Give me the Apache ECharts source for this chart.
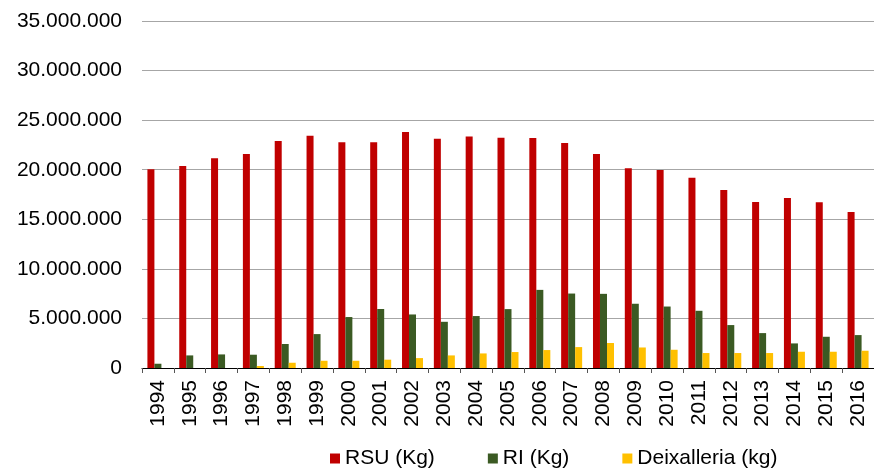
<!DOCTYPE html>
<html>
<head>
<meta charset="utf-8">
<script src="https://cdn.jsdelivr.net/npm/echarts@6/dist/echarts.min.js"></script>
<style>
html,body{margin:0;padding:0;background:#fff;}
#chart{width:874px;height:469px;}
</style>
</head>
<body>
<div id="chart"></div>
<script>
const years = ['1994','1995','1996','1997','1998','1999','2000','2001','2002','2003','2004','2005','2006','2007','2008','2009','2010','2011','2012','2013','2014','2015','2016'];
const rsu = [20040000,20370000,21150000,21580000,22890000,23420000,22760000,22780000,23800000,23120000,23360000,23220000,23190000,22690000,21580000,20140000,19970000,19200000,17960000,16750000,17150000,16720000,15740000];
const ri = [430000,1270000,1370000,1340000,2420000,3420000,5140000,5950000,5400000,4660000,5240000,5940000,7880000,7510000,7480000,6480000,6200000,5770000,4330000,3520000,2480000,3150000,3320000];
const deix = [0,0,0,200000,530000,730000,730000,840000,1000000,1270000,1470000,1610000,1810000,2110000,2520000,2070000,1840000,1510000,1510000,1510000,1640000,1640000,1740000];
const seriesNames = ['RSU (Kg)','RI (Kg)','Deixalleria (kg)'];
const colors = ['#C00000','#3B5A23','#FFC000'];

function fmt(v){
  return String(v).replace(/\B(?=(\d{3})+(?!\d))/g,'.');
}

const chart = echarts.init(document.getElementById('chart'), null, {renderer:'canvas'});
const font = 'Liberation Sans, Arial, sans-serif';
chart.setOption({
  animation:false,
  backgroundColor:'#fff',
  textStyle:{fontFamily:font},
  color:colors,
  grid:{left:142,right:-6,top:21,bottom:101,containLabel:false},
  legend:{
    left:325,top:443,
    itemWidth:10,itemHeight:10,itemGap:53,
    icon:'rect',
    textStyle:{fontFamily:font,fontSize:21,color:'#000'},
    data:seriesNames
  },
  xAxis:{
    type:'category',
    data:years,
    boundaryGap:true,
    axisLine:{show:true,lineStyle:{color:'#000',width:1}},
    axisTick:{show:true,length:5,alignWithLabel:false,lineStyle:{color:'#555'}},
    axisLabel:{rotate:90,margin:12,fontSize:21,color:'#000',fontFamily:font,interval:0}
  },
  yAxis:{
    type:'value',
    min:0,max:35000000,interval:5000000,
    axisLine:{show:false},
    axisTick:{show:false},
    splitLine:{show:true,lineStyle:{color:'#a6a6a6',width:1}},
    axisLabel:{margin:20,fontSize:21,color:'#000',fontFamily:font,formatter:fmt}
  },
  series:[
    {name:seriesNames[0],type:'bar',data:rsu,barWidth:7,barGap:'0%',itemStyle:{color:colors[0]}},
    {name:seriesNames[1],type:'bar',data:ri,barWidth:7,barGap:'0%',itemStyle:{color:colors[1]}},
    {name:seriesNames[2],type:'bar',data:deix,barWidth:7,barGap:'0%',itemStyle:{color:colors[2]}}
  ]
});
</script>
</body>
</html>
